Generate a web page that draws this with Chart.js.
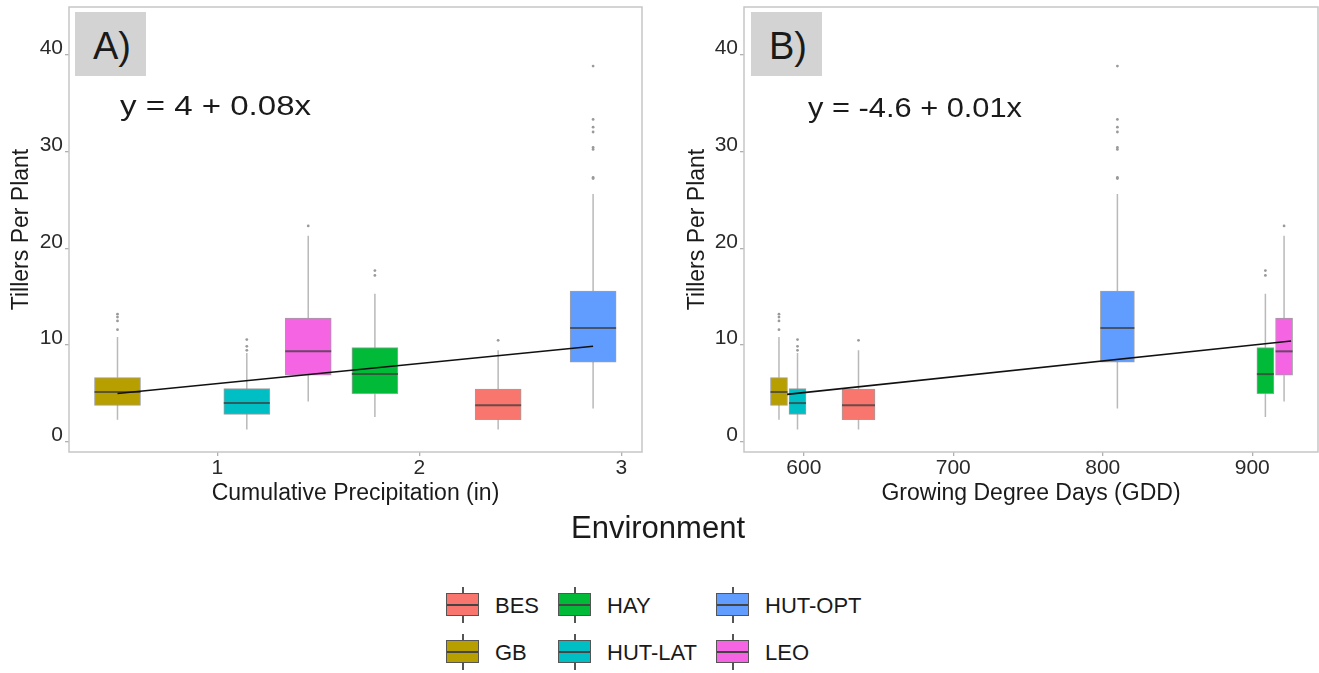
<!DOCTYPE html>
<html>
<head>
<meta charset="utf-8">
<script src="https://cdn.jsdelivr.net/npm/chart.js@4.4.1/dist/chart.umd.min.js"></script>
<style>
  body { margin: 0; background: #fff; font-family: "Liberation Sans", Arial, sans-serif; color: #1a1a1a; }
  #wrap { position: relative; width: 1319px; height: 673px; overflow: hidden; }
  canvas { position: absolute; top: 0; }
  .tag { position: absolute; top: 12px; width: 71px; height: 64px; background: #d3d3d3; }
  .tag span { position: absolute; left: 18px; top: 15px; font-size: 38px; line-height: 38px; }
  .eq { position: absolute; font-size: 28px; line-height: 28px; white-space: nowrap; transform-origin: left top; }
  #envTitle { position: absolute; left: 458px; width: 400px; top: 512px; text-align: center; font-size: 31px; line-height: 31px; }
  .lg-box { position: absolute; width: 31px; height: 21px; border: 1.3px solid #555; box-sizing: content-box; }
  .lg-box:after { content: ""; position: absolute; left: 0; right: 0; top: 9.5px; height: 2px; background: #444; }
  .lg-wh { position: absolute; width: 1.6px; background: #555; }
  .lg-label { position: absolute; font-size: 22px; line-height: 22px; white-space: nowrap; }
</style>
</head>
<body>
<div id="wrap">
  <canvas id="chartA" width="680" height="515" style="left:0"></canvas>
  <canvas id="chartB" width="639" height="515" style="left:680px"></canvas>
  <div class="tag" style="left:75px"><span>A)</span></div>
  <div class="tag" style="left:751px"><span>B)</span></div>
  <div class="eq" style="left:120px; top:92px; transform:scaleX(1.18)">y = 4 + 0.08x</div>
  <div class="eq" style="left:808px; top:94px; transform:scaleX(1.1)">y = -4.6 + 0.01x</div>
  <div id="envTitle">Environment</div>
  <div id="legend"></div>
</div>
<script>
// environments and their colours (ggplot default hues)
const envs = ['BES', 'GB', 'HAY', 'HUT-LAT', 'HUT-OPT', 'LEO'];
const envColors = ['#F8766D', '#B79F00', '#00BA38', '#00BFC4', '#619CFF', '#F564E3'];

// x position of each environment in the two panels
const precip = [2.39, 0.506, 1.78, 1.146, 2.86, 1.45];
const gdd = [636.6, 583.4, 908.8, 595.8, 809.8, 921.3];

// box plot statistics, tillers per plant
const whiskerLow = [1.28, 2.31, 2.57, 1.28, 3.45, 4.17];
const q1 = [2.31, 3.79, 4.99, 2.86, 8.25, 6.9];
const median = [3.79, 5.16, 7.01, 4.02, 11.76, 9.36];
const q3 = [5.47, 6.65, 9.74, 5.51, 15.58, 12.8];
const whiskerHigh = [9.46, 10.84, 15.3, 9.18, 25.6, 21.3];
const outliers = [
    [10.5],
    [11.6, 12.5, 12.9, 13.2],
    [17.2, 17.7],
    [9.46, 9.88, 10.57],
    [27.2, 27.3, 30.2, 30.4, 32.0, 32.5, 33.3, 38.8],
    [22.3]
];

// fitted lines (end points)
const fitPrecipX = [0.506, 2.86];
const fitPrecipY = [5.0, 9.88];
const fitGddX = [588.8, 926.0];
const fitGddY = [4.92, 10.42];

// tick labels
const yTicks = [0, 10, 20, 30, 40];
const precipTicks = [1, 2, 3];
const gddTicks = [600, 700, 800, 900];

const FONT = "'Liberation Sans', Arial, sans-serif";

const panelBorder = {
    id: 'panelBorder',
    afterDatasetsDraw(chart) {
        const { ctx, chartArea: a } = chart;
        ctx.save();
        ctx.strokeStyle = '#c6c6c6';
        ctx.lineWidth = 1.5;
        ctx.strokeRect(a.left, a.top, a.right - a.left, a.bottom - a.top);
        ctx.restore();
    }
};

function boxDatasets(xs, boxPx, fitX, fitY) {
    const ds = [];
    const whisk = [];
    envs.forEach((e, i) => {
        whisk.push({ x: xs[i], y: whiskerLow[i] }, { x: xs[i], y: q1[i] }, { x: xs[i], y: null },
                   { x: xs[i], y: q3[i] }, { x: xs[i], y: whiskerHigh[i] }, { x: xs[i], y: null });
    });
    ds.push({
        type: 'line', data: whisk, borderColor: '#b9b9b9', borderWidth: 1.5,
        pointRadius: 0, spanGaps: false, order: 6
    });
    envs.forEach((e, i) => {
        ds.push({
            type: 'bar', label: e,
            data: [{ x: xs[i], y: [q1[i], q3[i]] }],
            backgroundColor: envColors[i],
            borderColor: 'rgba(80,80,80,0.55)',
            borderWidth: 1, borderSkipped: false,
            barThickness: boxPx[i], stack: 'box', order: 5
        });
    });
    ds.push({
        type: 'scatter',
        data: envs.map((e, i) => ({ x: xs[i], y: median[i] })),
        pointStyle: 'line',
        pointRadius: boxPx.map(w => w / 2),
        pointBorderColor: 'rgba(60,60,60,0.75)',
        pointBorderWidth: 2, order: 4
    });
    const pts = [];
    envs.forEach((e, i) => outliers[i].forEach(v => pts.push({ x: xs[i], y: v })));
    ds.push({
        type: 'scatter', data: pts, pointRadius: 1.4,
        pointBackgroundColor: '#9a9a9a', pointBorderWidth: 0, order: 3
    });
    ds.push({
        type: 'line',
        data: fitX.map((x, i) => ({ x: x, y: fitY[i] })),
        borderColor: '#111', borderWidth: 1.6, pointRadius: 0, order: 1
    });
    return ds;
}

function makeChart(id, opts) {
    const tickFont = { family: FONT, size: 21 };
    const titleFont = { family: FONT, size: 23 };
    const grid = { drawOnChartArea: false, drawTicks: true, offset: false, tickLength: 4, color: '#b0b0b0', lineWidth: 1.3 };
    return new Chart(document.getElementById(id).getContext('2d'), {
        type: 'scatter',
        data: { datasets: boxDatasets(opts.xs, opts.boxPx, opts.fitX, opts.fitY) },
        options: {
            responsive: false,
            animation: false,
            events: [],
            layout: { padding: opts.padding, autoPadding: false },
            plugins: { legend: { display: false }, tooltip: { enabled: false } },
            scales: {
                x: {
                    type: 'linear', min: opts.xMin, max: opts.xMax, offset: false,
                    afterBuildTicks: s => { s.ticks = opts.xTicks.map(v => ({ value: v })); },
                    afterFit: s => { s.height = 58; s.paddingLeft = 0; s.paddingRight = 0; },
                    grid: grid, border: { display: false },
                    ticks: { font: tickFont, color: '#2a2a2a', padding: 0, maxRotation: 0, autoSkip: false },
                    title: { display: true, text: opts.xTitle, font: titleFont, color: '#1a1a1a', padding: { top: 0, bottom: 3 } }
                },
                y: {
                    type: 'linear', min: -1.03, max: 44.9, stacked: false,
                    afterBuildTicks: s => { s.ticks = yTicks.map(v => ({ value: v })); },
                    afterFit: s => { s.width = opts.yWidth; s.paddingTop = 0; s.paddingBottom = 0; },
                    grid: grid, border: { display: false },
                    ticks: { font: tickFont, color: '#2a2a2a', padding: 2, labelOffset: -6.5, autoSkip: false },
                    title: { display: true, text: 'Tillers Per Plant', font: titleFont, color: '#1a1a1a', padding: { top: opts.yTitlePad, bottom: 0 } }
                }
            }
        },
        plugins: [panelBorder]
    });
}

makeChart('chartA', {
    xs: precip, boxPx: [46, 46, 46, 46, 46, 46],
    fitX: fitPrecipX, fitY: fitPrecipY,
    xMin: 0.266, xMax: 3.102, xTicks: precipTicks,
    xTitle: 'Cumulative Precipitation (in)',
    yWidth: 69, yTitlePad: 8,
    padding: { left: 0, top: 7, right: 38, bottom: 5 }
});

makeChart('chartB', {
    xs: gdd, boxPx: [33, 17, 17, 17, 34, 17],
    fitX: fitGddX, fitY: fitGddY,
    xMin: 560, xMax: 944, xTicks: gddTicks,
    xTitle: 'Growing Degree Days (GDD)',
    yWidth: 64, yTitlePad: 4,
    padding: { left: 0, top: 7, right: 1, bottom: 5 }
});

// legend, two rows filled column by column
const legendCols = [446, 558, 716];
const legendRows = [605, 652];
const legend = document.getElementById('legend');
envs.forEach((e, i) => {
    const col = Math.floor(i / 2), row = i % 2;
    const x = legendCols[col], cy = legendRows[row];
    const top = document.createElement('div');
    top.className = 'lg-wh';
    top.style.cssText = `left:${x + 16}px; top:${cy - 18}px; height:7px`;
    const bot = document.createElement('div');
    bot.className = 'lg-wh';
    bot.style.cssText = `left:${x + 16}px; top:${cy + 11}px; height:7px`;
    const box = document.createElement('div');
    box.className = 'lg-box';
    box.style.cssText = `left:${x}px; top:${cy - 12}px; background:${envColors[i]}`;
    const lab = document.createElement('div');
    lab.className = 'lg-label';
    lab.textContent = e;
    lab.style.cssText = `left:${x + 49}px; top:${cy - 10}px`;
    legend.append(top, bot, box, lab);
});
</script>
</body>
</html>
